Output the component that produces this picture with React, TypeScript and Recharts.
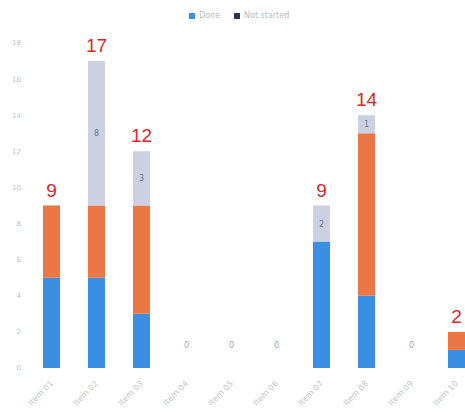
import React from 'react';
import { ComposedChart, Bar, Line, XAxis, YAxis, LabelList } from 'recharts';

const categories = ['Item 01', 'Item 02', 'Item 03', 'Item 04', 'Item 05', 'Item 06', 'Item 07', 'Item 08', 'Item 09', 'Item 10'];
const doneValues = [5, 5, 3, 0, 0, 0, 7, 4, 0, 1];
const progressValues = [4, 4, 6, 0, 0, 0, 0, 9, 0, 1];
const pendingValues = [0, 8, 3, 0, 0, 0, 2, 1, 0, 0];
const yTicks = [0, 2, 4, 6, 8, 10, 12, 14, 16, 18];

const BLUE = '#3b8fe3';
const ORANGE = '#ea7744';
const LIGHT = '#cbd1e3';
const NAVY = '#2b3548';

const data = categories.map((name, i) => ({
  name,
  done: doneValues[i],
  progress: progressValues[i],
  pending: pendingValues[i],
  total: doneValues[i] + progressValues[i] + pendingValues[i],
}));

// red totals above each stack, faint marker when the stack is empty
const TotalLabel = (props: any) => {
  const { x, y, value } = props;
  if (!value) {
    return (
      <text x={x} y={348} fill="#a0a6b2" fontSize={8} textAnchor="middle" fontFamily="DejaVu Sans">
        0
      </text>
    );
  }
  return (
    <text x={x} y={y - 9} fill="#d6282b" fontSize={19} textAnchor="middle" fontFamily="Liberation Sans">
      {value}
    </text>
  );
};

const InnerLabel = (props: any) => {
  const { x, y, width, height, value } = props;
  if (!value) return null;
  return (
    <text x={x + width / 2} y={y + height / 2 + 3} fill="#6a7696" fontSize={8} textAnchor="middle" fontFamily="DejaVu Sans">
      {value}
    </text>
  );
};

const XTick = (props: any) => {
  const { x, y, payload } = props;
  return (
    <g transform={`translate(${x + 2},${y + 8})`}>
      <text transform="rotate(-45)" textAnchor="end" fill="#c0c4cb" fontSize={8} fontFamily="DejaVu Sans">
        {payload.value}
      </text>
    </g>
  );
};

export default function App() {
  return (
    <div style={{ position: 'fixed', left: 0, top: 0, width: 465, height: 412, overflow: 'hidden', background: '#fff' }}>
      {/* legend */}
      <div
        style={{
          position: 'absolute',
          top: 11,
          left: 189,
          display: 'flex',
          alignItems: 'center',
          fontFamily: 'DejaVu Sans',
          fontSize: 8,
          color: '#b8bcc4',
        }}
      >
        <span style={{ width: 6, height: 6, background: BLUE, display: 'inline-block', marginRight: 4 }} />
        <span style={{ marginRight: 14 }}>Done</span>
        <span style={{ width: 6, height: 6, background: NAVY, display: 'inline-block', marginRight: 4 }} />
        <span>Not started</span>
      </div>
      <ComposedChart width={480} height={412} data={data} margin={{ top: 43, right: 1, bottom: 0, left: 0 }}>
        <XAxis
          dataKey="name"
          height={44}
          axisLine={false}
          tickLine={false}
          interval={0}
          tick={<XTick />}
        />
        <YAxis
          width={29}
          domain={[0, 18]}
          ticks={yTicks}
          axisLine={false}
          tickLine={false}
          tick={{ fill: '#bcc0c8', fontSize: 7, fontFamily: 'DejaVu Sans' }}
        />
        <Bar dataKey="done" stackId="s" fill={BLUE} barSize={17} isAnimationActive={false} />
        <Bar dataKey="progress" stackId="s" fill={ORANGE} barSize={17} isAnimationActive={false} />
        <Bar dataKey="pending" stackId="s" fill={LIGHT} barSize={17} isAnimationActive={false}>
          <LabelList dataKey="pending" content={<InnerLabel />} />
        </Bar>
        <Line dataKey="total" stroke="none" dot={false} activeDot={false} isAnimationActive={false}>
          <LabelList dataKey="total" content={<TotalLabel />} />
        </Line>
      </ComposedChart>
    </div>
  );
}
